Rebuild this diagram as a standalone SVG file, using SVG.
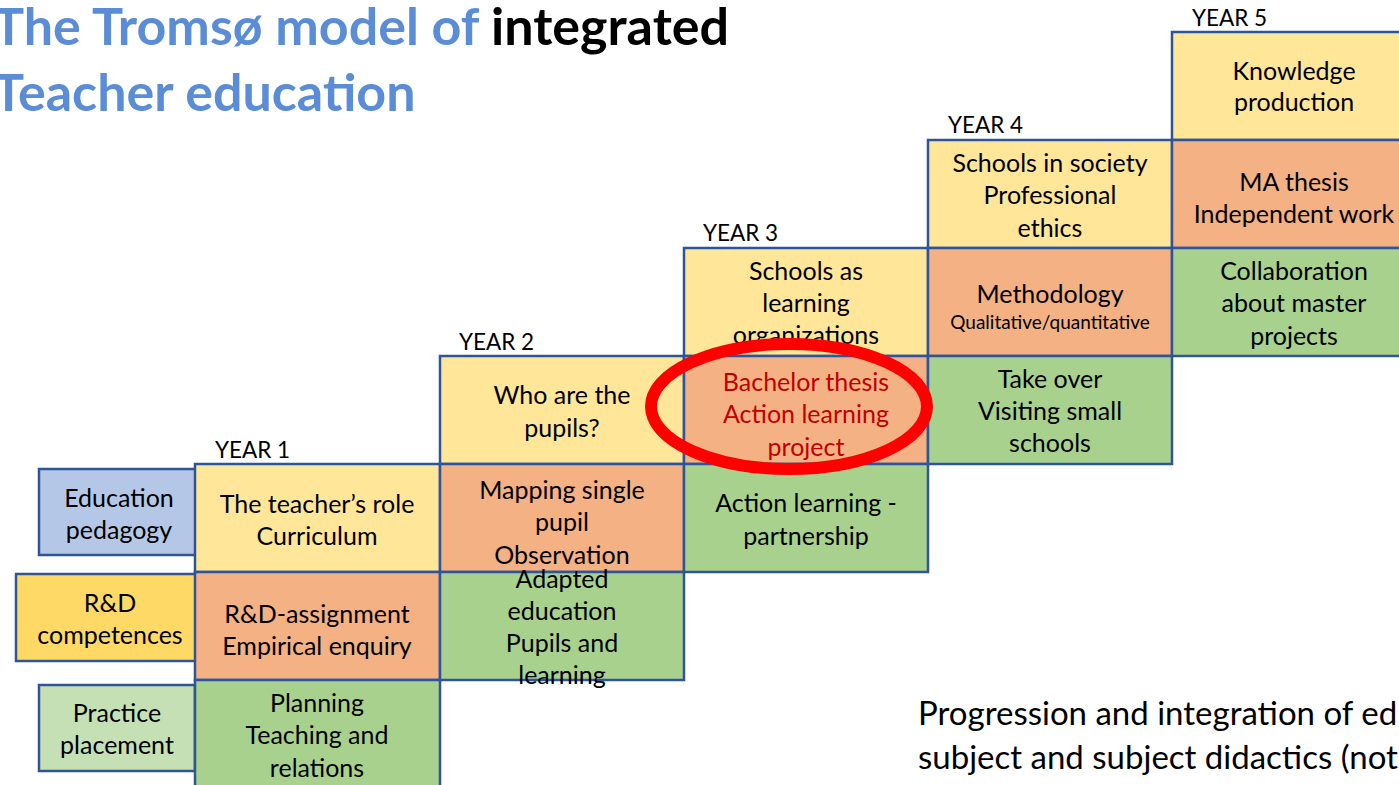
<svg xmlns="http://www.w3.org/2000/svg" width="1399" height="785" viewBox="0 0 1399 785">
<style>
.c{stroke:#2F5597;stroke-width:2.5}
.y{fill:#FFE699}.o{fill:#F4B183}.g{fill:#A9D18E}
.t{font-family:Lato,"Liberation Sans",sans-serif;font-size:25px;fill:#000;text-anchor:middle}
.yr{font-family:Lato,"Liberation Sans",sans-serif;font-size:22.5px;fill:#000}
.ttl{font-family:Lato,"Liberation Sans",sans-serif;font-size:52px;font-weight:bold;fill:#5B8DD6}
.red{fill:#C00000}
.cap{font-family:Lato,"Liberation Sans",sans-serif;font-size:33px;fill:#000}
</style>
<rect width="1399" height="785" fill="#fff"/>
<g id="title">
<text class="ttl" x="-7" y="45">The Tromsø model of <tspan fill="#000">integrated</tspan></text>
<text class="ttl" x="-7" y="111">Teacher education</text>
</g>
<g id="legend-education">
<rect class="c" x="39" y="469" width="160" height="86" fill="#B4C7E7"/>
<text class="t" x="119" y="507">Education</text><text class="t" x="119" y="539">pedagogy</text>
</g>
<g id="legend-rd">
<rect class="c" x="16" y="574" width="188" height="87" fill="#FFD966"/>
<text class="t" x="110" y="612">R&amp;D</text><text class="t" x="110" y="644">competences</text>
</g>
<g id="legend-practice">
<rect class="c" x="39" y="685" width="156" height="86" fill="#C5E0B4"/>
<text class="t" x="117" y="722">Practice</text><text class="t" x="117" y="754">placement</text>
</g>
<g id="year1">
<text class="yr" x="215" y="458">YEAR 1</text>
<rect class="c y" x="195" y="464" width="245" height="108"/>
<text class="t" x="317" y="513">The teacher’s role</text><text class="t" x="317" y="545">Curriculum</text>
<rect class="c o" x="195" y="572" width="245" height="108"/>
<text class="t" x="317" y="623">R&amp;D-assignment</text><text class="t" x="317" y="655">Empirical enquiry</text>
<rect class="c g" x="195" y="680" width="245" height="110"/>
<text class="t" x="317" y="712">Planning</text><text class="t" x="317" y="744">Teaching and</text><text class="t" x="317" y="777">relations</text>
</g>
<g id="year2">
<text class="yr" x="459" y="350">YEAR 2</text>
<rect class="c y" x="440" y="356" width="244" height="108"/>
<text class="t" x="562" y="404">Who are the</text><text class="t" x="562" y="437">pupils?</text>
<rect class="c o" x="440" y="464" width="244" height="108"/>
<text class="t" x="562" y="499">Mapping single</text><text class="t" x="562" y="531">pupil</text><text class="t" x="562" y="564">Observation</text>
<rect class="c g" x="440" y="572" width="244" height="108"/>
<text class="t" x="562" y="588">Adapted</text><text class="t" x="562" y="620">education</text><text class="t" x="562" y="652">Pupils and</text><text class="t" x="562" y="684">learning</text>
</g>
<g id="year3">
<text class="yr" x="703" y="241">YEAR 3</text>
<rect class="c y" x="684" y="248" width="244" height="108"/>
<text class="t" x="806" y="280">Schools as</text><text class="t" x="806" y="312">learning</text><text class="t" x="806" y="344">organizations</text>
<rect class="c o" x="684" y="356" width="244" height="108"/>
<text class="t red" x="806" y="391">Bachelor thesis</text><text class="t red" x="806" y="423">Action learning</text><text class="t red" x="806" y="456">project</text>
<rect class="c g" x="684" y="464" width="244" height="108"/>
<text class="t" x="806" y="512">Action learning -</text><text class="t" x="806" y="545">partnership</text>
</g>
<g id="year4">
<text class="yr" x="948" y="133">YEAR 4</text>
<rect class="c y" x="928" y="140" width="244" height="108"/>
<text class="t" x="1050" y="172">Schools in society</text><text class="t" x="1050" y="204">Professional</text><text class="t" x="1050" y="237">ethics</text>
<rect class="c o" x="928" y="248" width="244" height="108"/>
<text class="t" x="1050" y="303">Methodology</text><text class="t" x="1050" y="329" style="font-size:19px">Qualitative/quantitative</text>
<rect class="c g" x="928" y="356" width="244" height="108"/>
<text class="t" x="1050" y="388">Take over</text><text class="t" x="1050" y="420">Visiting small</text><text class="t" x="1050" y="452">schools</text>
</g>
<g id="year5">
<text class="yr" x="1192" y="26">YEAR 5</text>
<rect class="c y" x="1172" y="32" width="240" height="108"/>
<text class="t" x="1294" y="80">Knowledge</text><text class="t" x="1294" y="111">production</text>
<rect class="c o" x="1172" y="140" width="240" height="108"/>
<text class="t" x="1294" y="191">MA thesis</text><text class="t" x="1294" y="223">Independent work</text>
<rect class="c g" x="1172" y="248" width="240" height="108"/>
<text class="t" x="1294" y="280">Collaboration</text><text class="t" x="1294" y="312">about master</text><text class="t" x="1294" y="345">projects</text>
</g>
<g id="highlight">
<ellipse cx="789" cy="406.5" rx="138" ry="62.5" fill="none" stroke="#FF0000" stroke-width="12"/>
</g>
<g id="caption">
<text class="cap" x="918" y="725">Progression and integration of ed</text>
<text class="cap" x="918" y="769">subject and subject didactics (not</text>
</g>
<g id="connectors"></g>
</svg>
